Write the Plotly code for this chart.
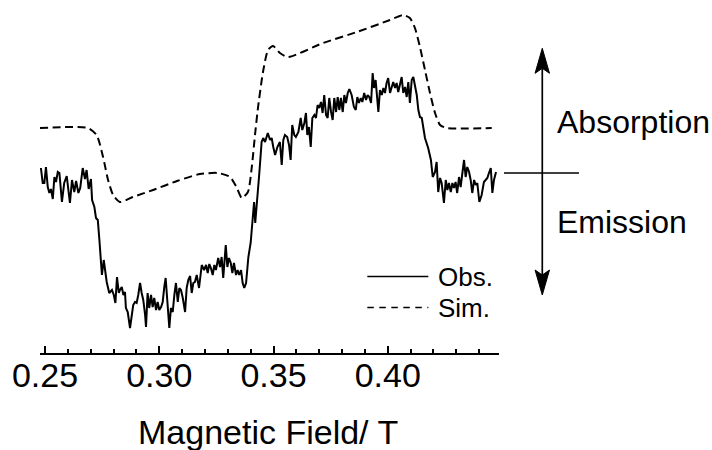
import plotly.graph_objects as go

# ---------------- data ----------------
tick_vals = [0.25, 0.30, 0.35, 0.40]
tick_text = ["0.25", "0.30", "0.35", "0.40"]

obs_field = [
    0.2482, 0.2490, 0.2497, 0.2504, 0.2512, 0.2519, 0.2526, 0.2534, 0.2541, 0.2548,
    0.2556, 0.2563, 0.2574, 0.2584, 0.2595, 0.2602, 0.2609, 0.2618, 0.2628, 0.2636,
    0.2646, 0.2654, 0.2665, 0.2675, 0.2682, 0.2691, 0.2701, 0.2706, 0.2716, 0.2723,
    0.2731, 0.2738, 0.2745, 0.2749, 0.2757, 0.2764, 0.2770, 0.2781, 0.2793, 0.2801,
    0.2808, 0.2815, 0.2823,
    0.2828, 0.2836, 0.2843, 0.2850, 0.2854, 0.2862, 0.2872, 0.2879, 0.2886, 0.2894,
    0.2901, 0.2908, 0.2916, 0.2923, 0.2930, 0.2938, 0.2942, 0.2949, 0.2956, 0.2964,
    0.2971, 0.2978, 0.2986, 0.2993, 0.3000, 0.3008, 0.3015, 0.3022, 0.3028, 0.3035,
    0.3044, 0.3051, 0.3059, 0.3066, 0.3073, 0.3081, 0.3088, 0.3095, 0.3103, 0.3113,
    0.3120, 0.3127, 0.3135, 0.3142, 0.3149, 0.3156, 0.3164, 0.3174,
    0.3186, 0.3196, 0.3205, 0.3212, 0.3219, 0.3226, 0.3234, 0.3241, 0.3248, 0.3258,
    0.3266, 0.3273, 0.3280, 0.3291, 0.3298, 0.3305, 0.3313, 0.3320, 0.3327, 0.3336,
    0.3343, 0.3350, 0.3358, 0.3365, 0.3372, 0.3380, 0.3390, 0.3400, 0.3409, 0.3415,
    0.3420, 0.3429, 0.3438, 0.3448, 0.3455, 0.3463, 0.3475, 0.3485, 0.3492, 0.3499,
    0.3507, 0.3517,
    0.3528, 0.3536, 0.3543, 0.3550, 0.3560, 0.3568, 0.3575, 0.3582, 0.3591, 0.3598,
    0.3609, 0.3619, 0.3626, 0.3635, 0.3642, 0.3648, 0.3655, 0.3663, 0.3670, 0.3679,
    0.3686, 0.3693, 0.3700, 0.3708, 0.3715, 0.3722, 0.3730, 0.3737, 0.3744, 0.3752,
    0.3759, 0.3766, 0.3774, 0.3781, 0.3788, 0.3795, 0.3803, 0.3810, 0.3817, 0.3825,
    0.3832,
    0.3842, 0.3852, 0.3860, 0.3867, 0.3874, 0.3882, 0.3889, 0.3897, 0.3905, 0.3912,
    0.3919, 0.3927, 0.3934, 0.3940, 0.3947, 0.3954, 0.3959, 0.3966, 0.3974, 0.3981,
    0.3988, 0.3995, 0.4002, 0.4010, 0.4017, 0.4024, 0.4032, 0.4039, 0.4046, 0.4054,
    0.4061, 0.4068, 0.4076, 0.4083, 0.4090, 0.4097, 0.4105, 0.4112, 0.4119, 0.4127,
    0.4134, 0.4141, 0.4149, 0.4156,
    0.4163, 0.4177, 0.4189, 0.4197, 0.4207, 0.4214, 0.4221, 0.4229, 0.4236, 0.4246,
    0.4254, 0.4261, 0.4268, 0.4276, 0.4283, 0.4290, 0.4297, 0.4304, 0.4312, 0.4319,
    0.4326, 0.4334, 0.4341, 0.4348, 0.4356, 0.4363, 0.4370, 0.4378, 0.4385, 0.4392,
    0.4401, 0.4411, 0.4421, 0.4429, 0.4436, 0.4443, 0.4451, 0.4458, 0.4465, 0.4474,
]
obs_intensity = [
    0.05, -0.10, -0.10, 0.06, -0.14, -0.20, -0.16, -0.26, -0.04, -0.09,
    0.01, 0.00, -0.29, -0.10, -0.03, -0.14, -0.30, -0.07, -0.19, -0.08,
    -0.20, -0.15, 0.05, -0.06, 0.03, -0.16, -0.06, -0.27, -0.34, -0.45,
    -0.47, -0.67, -0.90, -1.02, -0.87, -0.97, -1.09, -1.20, -1.17, -1.22,
    -1.30, -1.04, -1.20,
    -1.17, -1.14, -1.22, -1.19, -1.35, -1.39, -1.55, -1.42, -1.32, -1.29,
    -1.30, -1.22, -1.10, -1.20, -1.27, -1.42, -1.54, -1.20, -1.35, -1.22,
    -1.34, -1.25, -1.37, -1.29, -1.37, -1.34, -1.29, -1.14, -1.05, -1.27,
    -1.55, -1.35, -1.39, -1.22, -1.10, -1.29, -1.15, -1.17, -1.25, -1.39,
    -1.15, -1.07, -1.03, -1.20, -1.10, -1.09, -1.02, -1.15,
    -0.92, -0.97, -0.92, -1.00, -0.91, -0.95, -1.02, -0.92, -0.97, -0.85,
    -0.94, -0.84, -1.05, -0.72, -0.94, -0.85, -0.90, -1.00, -0.90, -1.02,
    -0.97, -1.02, -0.97, -1.10, -1.15, -1.10, -0.84, -0.70, -0.40, -0.29,
    -0.50, -0.27, 0.00, 0.31, 0.35, 0.31, 0.40, 0.33, 0.35, 0.26,
    0.18, 0.26,
    0.31, 0.08, 0.33, 0.38, 0.36, 0.28, 0.13, 0.48, 0.38, 0.36,
    0.41, 0.55, 0.43, 0.50, 0.60, 0.38, 0.46, 0.26, 0.55, 0.58,
    0.55, 0.68, 0.65, 0.71, 0.60, 0.78, 0.58, 0.55, 0.75, 0.61,
    0.53, 0.75, 0.61, 0.76, 0.63, 0.75, 0.61, 0.78, 0.70, 0.80,
    0.84,
    0.78, 0.66, 0.63, 0.76, 0.70, 0.75, 0.71, 0.80, 0.73, 0.78,
    0.76, 0.70, 1.00, 0.85, 0.93, 0.70, 0.61, 0.83, 0.78, 0.85,
    0.80, 0.90, 0.95, 0.80, 0.86, 0.91, 0.85, 0.90, 0.81, 0.88,
    0.96, 0.80, 0.86, 0.76, 0.91, 0.70, 0.93, 0.96, 0.86, 0.78,
    0.63, 0.56, 0.55, 0.46,
    0.35, 0.25, 0.13, -0.04, 0.01, 0.11, -0.19, -0.05, -0.10, -0.30,
    -0.07, -0.17, -0.10, -0.19, -0.10, -0.15, -0.09, -0.20, -0.04, -0.14,
    0.00, 0.13, -0.04, 0.06, 0.01, -0.07, -0.20, -0.07, -0.12, -0.10,
    -0.29, -0.22, -0.09, -0.07, -0.05, 0.00, 0.05, -0.20, -0.07, 0.01,
]

sim_field = [
    0.2478, 0.2688, 0.2726, 0.2754, 0.2776, 0.2798, 0.2828, 0.2885, 0.2973, 0.3078,
    0.3178, 0.3257, 0.3310, 0.3340, 0.3361, 0.3388, 0.3406, 0.3419, 0.3432, 0.3454,
    0.3476, 0.3498, 0.3528, 0.3564, 0.3717, 0.3865, 0.4010, 0.4067, 0.4097, 0.4119,
    0.4141, 0.4163, 0.4185, 0.4207, 0.4229, 0.4258, 0.4455,
]
sim_intensity = [
    0.45, 0.45, 0.38, 0.16, -0.07, -0.22, -0.29, -0.24, -0.17, -0.08,
    -0.01, 0.00, -0.04, -0.15, -0.25, -0.19, 0.08, 0.38, 0.65, 1.01,
    1.23, 1.27, 1.20, 1.16, 1.30, 1.41, 1.53, 1.58, 1.55, 1.45,
    1.26, 1.03, 0.80, 0.60, 0.48, 0.45, 0.45,
]

legend_labels = ["Obs.", "Sim."]
direction_labels = ["Absorption", "Emission"]
x_title = "Magnetic Field/ T"

# ---------------- layout constants ----------------
FONT = "Arial, Liberation Sans, Helvetica, sans-serif"
W, H = 712, 450
ML, MR, MT, MB = 40, 213, 0, 97
X_RANGE = [0.2478, 0.4487]
Y_RANGE = [-1.80, 1.73]
SIM_DASH = "8px,4.5px"

fig = go.Figure()
fig.add_trace(go.Scatter(x=obs_field, y=obs_intensity, mode="lines",
                         name=legend_labels[0], showlegend=False,
                         line=dict(color="black", width=2)))
fig.add_trace(go.Scatter(x=sim_field, y=sim_intensity, mode="lines",
                         name=legend_labels[1], showlegend=False,
                         line=dict(color="black", width=2, dash=SIM_DASH,
                                   shape="spline", smoothing=0.6)))

shapes = []
annotations = []

# manual legend
leg_x0, leg_x1, leg_tx = 0.7131, 0.8460, 0.8627
for lab, yy, dash in [(legend_labels[0], 0.2167, "solid"),
                      (legend_labels[1], 0.1286, "6.5px,5.5px")]:
    shapes.append(dict(type="line", xref="paper", yref="paper",
                       x0=leg_x0, x1=leg_x1, y0=yy, y1=yy,
                       line=dict(color="black", width=1.5, dash=dash)))
    annotations.append(dict(text=lab, xref="paper", yref="paper", x=leg_tx, y=yy,
                            xanchor="left", yanchor="middle", showarrow=False,
                            font=dict(family=FONT, size=26, color="black")))

# absorption / emission double arrow
ax_x = 1.0943
hw = 0.0157
top, bot = 1.247, -1.22
head, notch = 0.25, 0.20
shapes.append(dict(type="line", xref="paper", yref="y", x0=ax_x, x1=ax_x,
                   y0=bot + notch, y1=top - notch, line=dict(color="black", width=1.7)))
shapes.append(dict(type="line", xref="paper", yref="y", x0=1.0109, x1=1.1743,
                   y0=0, y1=0, line=dict(color="black", width=1.5)))
shapes.append(dict(type="path", xref="paper", yref="y",
                   path=f"M {ax_x},{top} L {ax_x-hw},{top-head} L {ax_x},{top-notch} "
                        f"L {ax_x+hw},{top-head} Z",
                   fillcolor="black", line=dict(color="black", width=1)))
shapes.append(dict(type="path", xref="paper", yref="y",
                   path=f"M {ax_x},{bot} L {ax_x-hw},{bot+head} L {ax_x},{bot+notch} "
                        f"L {ax_x+hw},{bot+head} Z",
                   fillcolor="black", line=dict(color="black", width=1)))
for lab, yy in [(direction_labels[0], 0.51), (direction_labels[1], -0.49)]:
    annotations.append(dict(text=lab, xref="paper", yref="y", x=1.122, y=yy,
                            xanchor="left", yanchor="middle", showarrow=False,
                            font=dict(family=FONT, size=32, color="black")))

# x-axis title (placed as an annotation so it can sit low, as in the reference)
annotations.append(dict(text=x_title, xref="paper", yref="paper", x=0.496, y=-0.225,
                        xanchor="center", yanchor="middle", showarrow=False,
                        font=dict(family=FONT, size=34, color="black")))

fig.update_layout(
    width=W, height=H,
    margin=dict(l=ML, r=MR, t=MT, b=MB, pad=0, autoexpand=False),
    paper_bgcolor="white", plot_bgcolor="white",
    showlegend=False,
    font=dict(family=FONT, color="black"),
    shapes=shapes, annotations=annotations,
    xaxis=dict(
        range=X_RANGE, showgrid=False, zeroline=False,
        showline=True, linecolor="black", linewidth=2,
        ticks="inside", ticklen=7, tickwidth=2, tickcolor="black",
        tickvals=tick_vals, ticktext=tick_text, ticklabelstandoff=-9,
        tickfont=dict(family=FONT, size=34, color="black"),
        minor=dict(ticks="inside", ticklen=4, tickwidth=2, tickcolor="black",
                   tick0=0.25, dtick=0.01, showgrid=False),
    ),
    yaxis=dict(range=Y_RANGE, visible=False),
)

# remove the default 8px page margin so the figure fills the window exactly
fig.write_html("out.html",
               config={"displayModeBar": False},
               post_script="document.body.style.margin='0';"
                           "document.body.style.overflow='hidden';")
